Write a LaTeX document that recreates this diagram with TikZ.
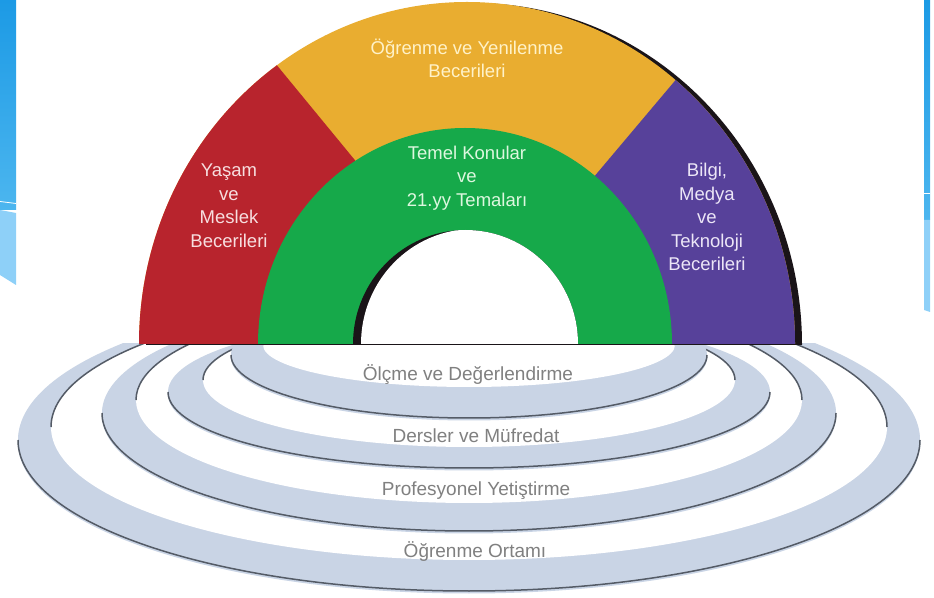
\documentclass[tikz,border=0pt]{standalone}
\usepackage{fontspec}
\setmainfont{Liberation Sans}
\definecolor{archred}{HTML}{B8242D}
\definecolor{archyellow}{HTML}{E9AD30}
\definecolor{archgreen}{HTML}{16A94A}
\definecolor{archpurple}{HTML}{57419A}
\definecolor{archshadow}{HTML}{1A1418}
\definecolor{ringgray}{HTML}{C9D4E5}
\definecolor{ringdark}{HTML}{545B66}
\definecolor{ringtext}{HTML}{808080}
\definecolor{stripdark}{HTML}{1C9AE5}
\definecolor{stripmid}{HTML}{4CB6EF}
\definecolor{striplight}{HTML}{8ED0F8}
\definecolor{txtyellow}{HTML}{FFF2C8}
\definecolor{txtred}{HTML}{F7DEDF}
\definecolor{txtgreen}{HTML}{DDF7DF}
\definecolor{txtpurple}{HTML}{ECE6F7}
% #1 cx, #2 outer cy, #3 outer a, #4 outer b, #5 inner cy, #6 inner a, #7 inner b
\newcommand{\myring}[7]{%
  \fill[ringgray] (#1,{#2-2.5}) ellipse [x radius=#3, y radius=#4];
  \fill[ringgray] (#1,#2) ellipse [x radius=#3, y radius=#4];
  \draw[ringedge] ({#1-#3},#2) arc [start angle=180, end angle=360, x radius=#3, y radius=#4];
  \fill[white] (#1,#5) ellipse [x radius=#6, y radius=#7];
  \draw[ringedge] ({#1+#6},#5) arc [start angle=0, end angle=180, x radius=#6, y radius=#7];
}
\tikzset{
  ringedge/.style={draw=ringdark, line width=1.5pt},
  archtext/.style={align=center, inner sep=0pt, font=\fontsize{18.5}{23.5}\selectfont},
  ringlabel/.style={anchor=base, inner sep=0pt, text=ringtext, font=\fontsize{19}{22}\selectfont},
}
\begin{document}
\begin{tikzpicture}[x=1pt,y=1pt]
\useasboundingbox (0,0) rectangle (934,597);
\fill[white] (0,0) rectangle (934,597);

% blue strips at the edges
\shade[top color=stripdark, bottom color=stripmid] (0,597) rectangle (16,387);
\fill[striplight] (0,387) -- (16,384) -- (16,312) -- (0,322) -- cycle;
\draw[white, line width=0.8pt] (0,395.5) -- (16,393.5);
\shade[top color=stripdark, bottom color=stripmid] (924,597) rectangle (930,377);
\fill[striplight] (924,377) -- (930,377) -- (930,285) -- (924,287) -- cycle;
\draw[white, line width=0.8pt] (924,404) -- (930,404);

% rings (lower half only)
\begin{scope}
  \clip (0,0) rectangle (934,253.5);
  \myring{469}{157}{451}{151}{170}{418}{133}
  \myring{469}{184}{367}{118}{197}{333}{103}
  \myring{469}{205}{301}{76}{217}{266}{67}
  \myring{469}{242}{238}{63}{252}{206}{42}
\end{scope}

% arch
\fill[archshadow] (146,252) arc [start angle=180, end angle=0, x radius=328, y radius=342] -- cycle;
\fill[archyellow] (139,253) arc [start angle=180, end angle=0, x radius=328, y radius=342] -- cycle;
\begin{scope}
  \clip (139,253) arc [start angle=180, end angle=0, x radius=328, y radius=342] -- cycle;
  \fill[archred] (100,247) -- (100,607) -- (215,607) -- (511,247) -- cycle;
  \fill[archpurple] (448,247) -- (751.5,607) -- (850,607) -- (850,247) -- cycle;
\end{scope}
\fill[archgreen] (258,253) arc [start angle=180, end angle=0, x radius=207, y radius=216] -- cycle;
\fill[archshadow] (353,253) arc [start angle=180, end angle=0, x radius=112.5, y radius=114] -- cycle;
\begin{scope}
  \clip (353,253) arc [start angle=180, end angle=0, x radius=112.5, y radius=114] -- cycle;
  \fill[white] (361,253) arc [start angle=180, end angle=0, x radius=112.5, y radius=115] -- cycle;
\end{scope}

% arch labels
\node[archtext, text=txtyellow] (ogr) at (467,538.8) {Öğrenme ve Yenilenme\\Becerileri};
\node[archtext, text=txtgreen] (temel) at (467,418.8) {Temel Konular\\ve\\21.yy Temaları};
\node[archtext, text=txtred] (yasam) at (229,391.5) {Yaşam\\ve\\Meslek\\Becerileri};
\node[archtext, text=txtpurple] (bilgi) at (707,380) {Bilgi,\\Medya\\ve\\Teknoloji\\Becerileri};

% ring labels
\node[ringlabel] (olcme) at (468,216) {Ölçme ve Değerlendirme};
\node[ringlabel] (dersler) at (476,154) {Dersler ve Müfredat};
\node[ringlabel] (prof) at (476,101) {Profesyonel Yetiştirme};
\node[ringlabel] (ortam) at (475,40) {Öğrenme Ortamı};
\end{tikzpicture}
\end{document}
